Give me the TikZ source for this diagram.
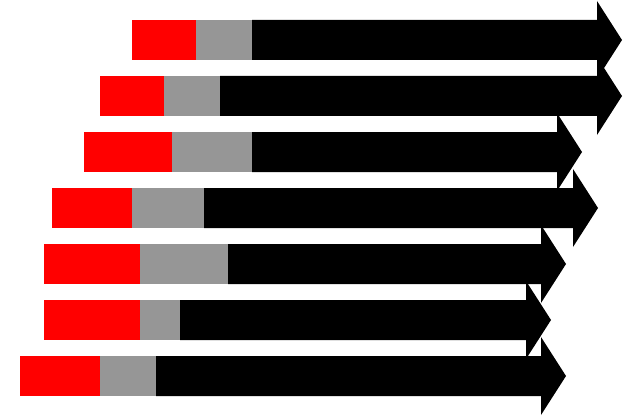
\documentclass[tikz,border=0pt]{standalone}
\definecolor{barred}{RGB}{255,0,0}
\definecolor{bargray}{RGB}{150,150,150}
\tikzset{
  redpart/.style={fill=barred},
  graypart/.style={fill=bargray},
  blackarrow/.style={fill=black}
}
\begin{document}
\begin{tikzpicture}[x=1pt,y=-1pt]
\useasboundingbox (0,0) rectangle (623,417);
% row: top y, red start, gray start, black start, head base x
\foreach \t/\r/\g/\b/\h in {20/132/196/252/597, 76/100/164/220/597, 132/84/172/252/557, 188/52/132/204/573, 244/44/140/228/541, 300/44/140/180/526, 356/20/100/156/541}{
  \pgfmathsetmacro{\c}{\t+20}
  \pgfmathsetmacro{\bt}{\t+40}
  \pgfmathsetmacro{\ht}{\t-19}
  \pgfmathsetmacro{\hb}{\t+59}
  \pgfmathsetmacro{\tip}{\h+25}
  \fill[redpart] (\r,\t) rectangle (\g,\bt);
  \fill[graypart] (\g,\t) rectangle (\b,\bt);
  \fill[blackarrow] (\b,\t) -- (\h,\t) -- (\h,\ht) -- (\tip,\c) -- (\h,\hb) -- (\h,\bt) -- (\b,\bt) -- cycle;
}
\end{tikzpicture}
\end{document}
